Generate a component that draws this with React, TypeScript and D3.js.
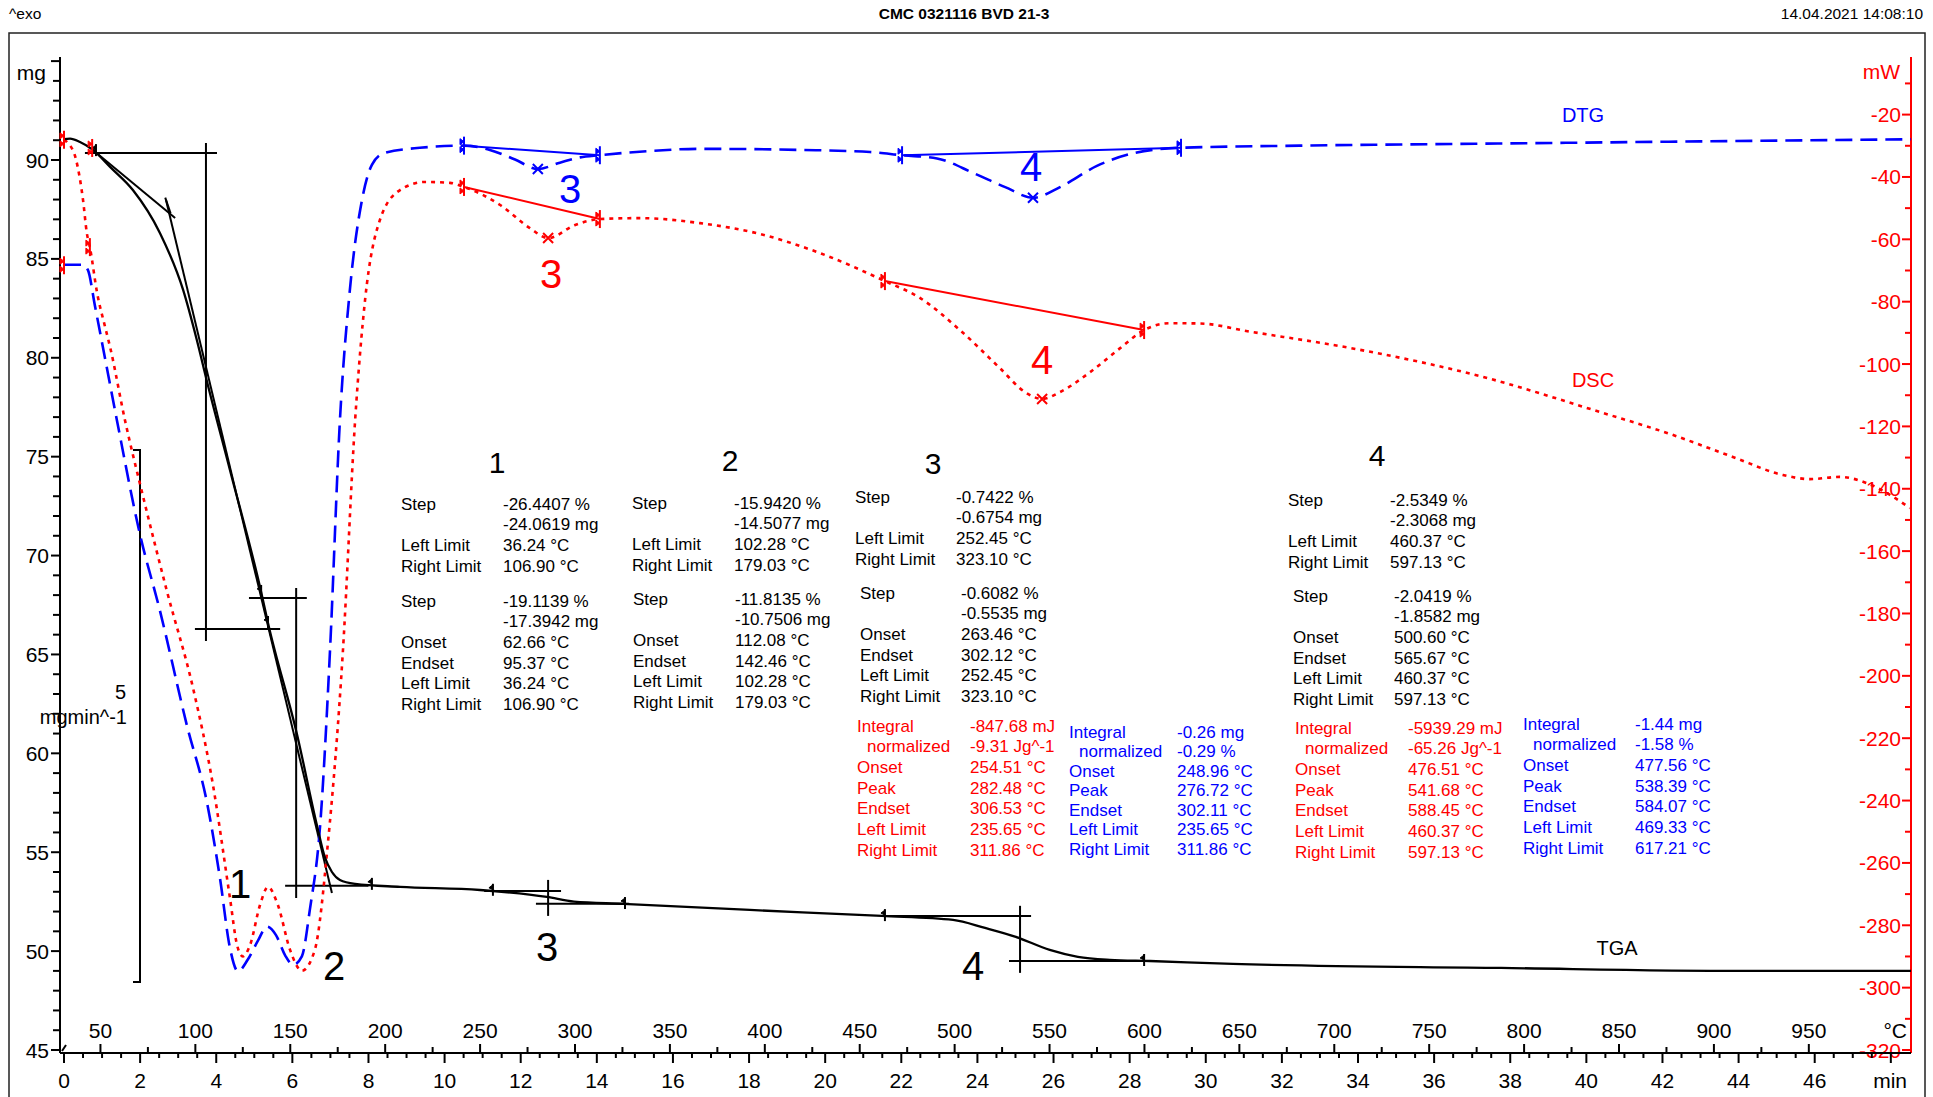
import React from "react";
import * as d3 from "d3";

const W = 1933;
const H = 1097;
const FONT = "'Liberation Sans', Arial, sans-serif";
const BLUE = "#0000ff";
const RED = "#ff0000";

// TGA curve: [time min, mass mg]
const tgaPoints: [number, number][] = [
  [0, 91.06], [0.16, 91.08], [0.42, 90.91], [0.76, 90.51], [1.21, 89.65], [1.81, 88.48],
  [2.52, 86.31], [3.13, 83.43], [3.49, 80.9], [3.76, 78.78], [4.36, 74.33], [5.18, 68.16],
  [5.36, 66.59], [6.12, 60.98], [6.65, 56.33], [6.86, 54.71], [7.04, 54.0], [7.25, 53.6],
  [7.65, 53.4], [8.83, 53.25], [10.93, 53.09], [12.69, 52.74], [13.4, 52.5], [14.69, 52.39],
  [18.02, 52.08], [21.49, 51.78], [23.36, 51.58], [24.2, 51.17], [25.01, 50.72], [25.9, 50.06],
  [26.64, 49.71], [27.48, 49.56], [28.53, 49.5], [30.71, 49.35], [37.76, 49.15], [44.09, 49.0],
  [48.53, 49.0],
];

// DTG curve: [time min, mg/min]
const dtgPoints: [number, number][] = [
  [0, -1.22], [0.5, -1.22], [0.63, -1.27], [0.81, -1.6], [1.02, -1.99], [1.39, -2.68],
  [2.0, -3.76], [2.52, -4.47], [3.23, -5.55], [3.76, -6.28], [4.1, -6.99], [4.36, -7.64],
  [4.57, -7.86], [4.83, -7.75], [5.1, -7.57], [5.33, -7.44], [5.57, -7.52], [5.81, -7.71],
  [6.02, -7.8], [6.25, -7.72], [6.46, -7.28], [6.73, -6.49], [6.99, -4.84], [7.25, -2.68],
  [7.51, -1.46], [7.83, -0.61], [8.09, -0.28], [8.41, -0.17], [9.35, -0.12], [10.51, -0.1],
  [11.19, -0.14], [11.85, -0.23], [12.45, -0.32], [13.03, -0.26], [13.56, -0.21], [14.08, -0.19],
  [15.4, -0.15], [16.71, -0.13], [19.34, -0.14], [21.18, -0.16], [22.02, -0.19], [22.94, -0.22],
  [23.91, -0.36], [24.73, -0.49], [25.46, -0.59], [26.17, -0.49], [27.14, -0.29], [28.11, -0.17],
  [29.35, -0.12], [32.47, -0.1], [37.73, -0.08], [42.98, -0.06], [48.53, -0.04],
];

// DSC curve: [time min, mW]
const dscPoints: [number, number][] = [
  [0, -28.1], [0.1, -29.1], [0.32, -34.6], [0.5, -47.4], [0.6, -58], [0.68, -62.5],
  [0.87, -77.2], [1.08, -88.1], [1.21, -94.5], [1.6, -117.9], [2.08, -142.6], [2.71, -173.1],
  [3.39, -203.9], [3.91, -234.7], [4.36, -271.2], [4.55, -286.5], [4.7, -290], [4.89, -286.3],
  [5.15, -273.5], [5.36, -267.7], [5.62, -273.5], [5.94, -287.9], [6.25, -294.6], [6.59, -287.9],
  [6.94, -252.9], [7.33, -191.7], [7.65, -117.9], [7.91, -79.5], [8.3, -53.8], [8.83, -44.2],
  [9.49, -41.6], [10.14, -41.9], [10.51, -43.2], [11.46, -49], [12.24, -56.4], [12.72, -59.6],
  [13.43, -55.4], [14.08, -53.5], [15.13, -53.2], [16.71, -54.8], [18.29, -58.3], [19.86, -64.4],
  [21.57, -73.4], [22.49, -78.8], [23.54, -89.1], [24.59, -101.3], [25.25, -109], [25.7, -111.2],
  [26.17, -109], [26.96, -102.6], [27.75, -94.9], [28.38, -89.1], [29.06, -86.9], [29.85, -87.0],
  [31.16, -89.6], [33.95, -95.2], [37.18, -103.8], [40.44, -115.7], [42.12, -122.1], [43.85, -129.8],
  [45.17, -135.6], [45.87, -136.9], [46.66, -136.2], [47.37, -138.2], [47.98, -142], [48.5, -146.2],
];

// evaluation marks
const tgaMarks: [number, number][] = [[0.84, 90.45], [5.18, 68.16], [5.36, 66.59], [8.09, 53.35], [11.27, 53.05], [14.74, 52.38], [21.57, 51.77], [28.38, 49.5]];
const dscLimits: [number, number][] = [[0, -28.1], [0.74, -30.7], [0.68, -62.5], [0, -68.3], [10.51, -43.2], [14.08, -53.5], [21.57, -73.4], [28.38, -89.1]];
const dtgLimits: [number, number][] = [[10.51, -0.1], [14.08, -0.19], [22.02, -0.19], [29.35, -0.12]];
const dscPeaks: [number, number][] = [[12.72, -59.6], [25.7, -111.2]];
const dtgPeaks: [number, number][] = [[12.45, -0.32], [25.46, -0.59]];
const dscBaselines: [number, number][][] = [[[10.51, -43.2], [14.08, -53.5]], [[21.57, -73.4], [28.38, -89.1]]];
const dtgBaselines: [number, number][][] = [[[10.51, -0.1], [14.08, -0.19]], [[22.02, -0.19], [29.35, -0.12]]];

// TGA step construction lines: [t1, mg1, t2, mg2]
const stepLines: [number, number, number, number][] = [
  [0.55, 90.35, 4.02, 90.35], [3.73, 90.86, 3.73, 65.68], [3.44, 66.29, 5.68, 66.29],
  [0.76, 90.51, 2.92, 87.07], [2.66, 88.1, 2.8, 87.3], [2.68, 87.98, 7.04, 52.94],
  [4.86, 67.86, 6.38, 67.86], [6.1, 68.36, 6.1, 52.69], [5.81, 53.3, 8.0, 53.3],
  [11.04, 53.04, 13.06, 53.04], [12.72, 53.6, 12.72, 51.78], [12.4, 52.39, 14.85, 52.39],
  [21.49, 51.78, 25.41, 51.78], [25.12, 52.29, 25.12, 48.9], [24.83, 49.5, 28.53, 49.5],
];

// axis ticks
const timeLabels = [0, 2, 4, 6, 8, 10, 12, 14, 16, 18, 20, 22, 24, 26, 28, 30, 32, 34, 36, 38, 40, 42, 44, 46];
const tempLabels = [50, 100, 150, 200, 250, 300, 350, 400, 450, 500, 550, 600, 650, 700, 750, 800, 850, 900, 950];
const massLabels = [45, 50, 55, 60, 65, 70, 75, 80, 85, 90];
const powerLabels = [-20, -40, -60, -80, -100, -120, -140, -160, -180, -200, -220, -240, -260, -280, -300, -320];

// result tables
const block1a = [["Step", "-26.4407 %"], ["", "-24.0619 mg"], ["Left Limit", "36.24 °C"], ["Right Limit", "106.90 °C"]];
const block1b = [["Step", "-19.1139 %"], ["", "-17.3942 mg"], ["Onset", "62.66 °C"], ["Endset", "95.37 °C"], ["Left Limit", "36.24 °C"], ["Right Limit", "106.90 °C"]];
const block2a = [["Step", "-15.9420 %"], ["", "-14.5077 mg"], ["Left Limit", "102.28 °C"], ["Right Limit", "179.03 °C"]];
const block2b = [["Step", "-11.8135 %"], ["", "-10.7506 mg"], ["Onset", "112.08 °C"], ["Endset", "142.46 °C"], ["Left Limit", "102.28 °C"], ["Right Limit", "179.03 °C"]];
const block3a = [["Step", "-0.7422 %"], ["", "-0.6754 mg"], ["Left Limit", "252.45 °C"], ["Right Limit", "323.10 °C"]];
const block3b = [["Step", "-0.6082 %"], ["", "-0.5535 mg"], ["Onset", "263.46 °C"], ["Endset", "302.12 °C"], ["Left Limit", "252.45 °C"], ["Right Limit", "323.10 °C"]];
const block3dsc = [["Integral", "-847.68 mJ"], ["normalized", "-9.31 Jg^-1"], ["Onset", "254.51 °C"], ["Peak", "282.48 °C"], ["Endset", "306.53 °C"], ["Left Limit", "235.65 °C"], ["Right Limit", "311.86 °C"]];
const block3dtg = [["Integral", "-0.26 mg"], ["normalized", "-0.29 %"], ["Onset", "248.96 °C"], ["Peak", "276.72 °C"], ["Endset", "302.11 °C"], ["Left Limit", "235.65 °C"], ["Right Limit", "311.86 °C"]];
const block4a = [["Step", "-2.5349 %"], ["", "-2.3068 mg"], ["Left Limit", "460.37 °C"], ["Right Limit", "597.13 °C"]];
const block4b = [["Step", "-2.0419 %"], ["", "-1.8582 mg"], ["Onset", "500.60 °C"], ["Endset", "565.67 °C"], ["Left Limit", "460.37 °C"], ["Right Limit", "597.13 °C"]];
const block4dsc = [["Integral", "-5939.29 mJ"], ["normalized", "-65.26 Jg^-1"], ["Onset", "476.51 °C"], ["Peak", "541.68 °C"], ["Endset", "588.45 °C"], ["Left Limit", "460.37 °C"], ["Right Limit", "597.13 °C"]];
const block4dtg = [["Integral", "-1.44 mg"], ["normalized", "-1.58 %"], ["Onset", "477.56 °C"], ["Peak", "538.39 °C"], ["Endset", "584.07 °C"], ["Left Limit", "469.33 °C"], ["Right Limit", "617.21 °C"]];

const x = d3.scaleLinear().domain([0, 48.53]).range([64, 1911]);
const xTemp = d3.scaleLinear().domain([30.8, 30.8 + 20.05 * 48.53]).range([64, 1911]);
const yMass = d3.scaleLinear().domain([45, 90]).range([1050, 160]);
const yPow = d3.scaleLinear().domain([-320, -20]).range([1050, 114.6]);
const yDtg = d3.scaleLinear().domain([-8.6, 0.752]).range([1050, 55]);

const lineFor = (ys: d3.ScaleLinear<number, number>) =>
  d3.line<[number, number]>().x((d) => x(d[0])).y((d) => ys(d[1])).curve(d3.curveMonotoneX);

const Table = ({ rows, lx, vx, y0, dy = 20.7, color = "#000" }: any) => (
  <g fill={color} fontSize={17} fontFamily={FONT}>
    {rows.map((r: string[], i: number) => (
      <g key={i}>
        <text x={lx + (r[0] === "normalized" ? 10 : 0)} y={y0 + i * dy} dominantBaseline="central">{r[0]}</text>
        <text x={vx} y={y0 + i * dy} dominantBaseline="central">{r[1]}</text>
      </g>
    ))}
  </g>
);

const Limit = ({ p, ys, color }: any) => {
  const cx = x(p[0]);
  const cy = ys(p[1]);
  return (
    <g stroke={color} strokeWidth={2} fill={color}>
      <path d={`M${cx},${cy - 9}V${cy + 9}`} />
      <path d={`M${cx},${cy - 4}L${cx - 4},${cy - 7}L${cx - 4},${cy - 1}Z`} strokeWidth={1} />
      <path d={`M${cx},${cy + 4}L${cx - 4},${cy + 1}L${cx - 4},${cy + 7}Z`} strokeWidth={1} />
    </g>
  );
};

const Cross = ({ p, ys, color }: any) => {
  const cx = x(p[0]);
  const cy = ys(p[1]);
  return <path d={`M${cx - 5},${cy - 5}L${cx + 5},${cy + 5}M${cx + 5},${cy - 5}L${cx - 5},${cy + 5}`} stroke={color} strokeWidth={2} />;
};

export default function App() {
  const massMinor = d3.range(45, 96, 1);
  const powMinor = d3.range(-320, 0, 10);
  const timeMinor = d3.range(0, 48.5, 0.5);
  const tempMinor = d3.range(50, 975, 25);

  return (
    <svg width={W} height={H} style={{ position: "absolute", left: 0, top: 0, background: "#fff" }} fontFamily={FONT}>
      <rect x={0} y={0} width={W} height={H} fill="#fff" />
      {/* header */}
      <text x={9} y={13} fontSize={15.5} dominantBaseline="central">^exo</text>
      <text x={964} y={13} fontSize={15.5} fontWeight="bold" textAnchor="middle" dominantBaseline="central">CMC 0321116 BVD 21-3</text>
      <text x={1923} y={13} fontSize={15.5} textAnchor="end" dominantBaseline="central">14.04.2021 14:08:10</text>
      <path d={`M9,${H}V33H1925V${H}`} fill="none" stroke="#222" strokeWidth={1.5} />

      {/* left mass axis */}
      <g stroke="#000" strokeWidth={2}>
        <line x1={60} x2={60} y1={57} y2={1053} />
        {massMinor.map((m) => (
          <line key={m} x1={m % 5 === 0 ? 51 : 53} x2={60} y1={yMass(m)} y2={yMass(m)} />
        ))}
      </g>
      <g fontSize={21} textAnchor="end">
        {massLabels.map((m) => (
          <text key={m} x={49} y={yMass(m)} dominantBaseline="central">{m}</text>
        ))}
        <text x={46} y={72} dominantBaseline="central">mg</text>
      </g>

      {/* right power axis */}
      <g stroke={RED} strokeWidth={2}>
        <line x1={1911} x2={1911} y1={57} y2={1053} />
        {powMinor.map((p) => (
          <line key={p} x1={p % 20 === 0 ? 1902 : 1905} x2={1911} y1={yPow(p)} y2={yPow(p)} />
        ))}
      </g>
      <g fontSize={21} textAnchor="end" fill={RED}>
        {powerLabels.map((p) => (
          <text key={p} x={1901} y={yPow(p)} dominantBaseline="central">{p}</text>
        ))}
        <text x={1900} y={71} dominantBaseline="central">mW</text>
      </g>

      {/* bottom time / temperature axis */}
      <g stroke="#000" strokeWidth={2}>
        <line x1={60} x2={1911} y1={1053} y2={1053} />
        {timeMinor.map((t) => (
          <line key={t} x1={x(t)} x2={x(t)} y1={1053} y2={t % 2 === 0 ? 1063 : 1058} />
        ))}
        {tempMinor.map((T) => (
          <line key={T} x1={xTemp(T)} x2={xTemp(T)} y1={T % 50 === 0 ? 1044 : 1047} y2={1053} />
        ))}
        <path d="M62,1051l4,-6" />
      </g>
      <g fontSize={21} textAnchor="middle">
        {timeLabels.map((t) => (
          <text key={t} x={x(t)} y={1080} dominantBaseline="central">{t}</text>
        ))}
        {tempLabels.map((T) => (
          <text key={T} x={xTemp(T)} y={1030} dominantBaseline="central">{T}</text>
        ))}
        <text x={1907} y={1030} textAnchor="end" dominantBaseline="central">°C</text>
        <text x={1907} y={1080} textAnchor="end" dominantBaseline="central">min</text>
      </g>

      {/* DTG scale bar */}
      <path d={`M133,${yDtg(-2.96)}H140V${yDtg(-7.96)}H133`} fill="none" stroke="#000" strokeWidth={2} />
      <text x={126} y={692} fontSize={20} textAnchor="end" dominantBaseline="central">5</text>
      <text x={127} y={717} fontSize={20} textAnchor="end" dominantBaseline="central">mgmin^-1</text>

      {/* step construction */}
      <g stroke="#000" strokeWidth={2}>
        {stepLines.map((s, i) => (
          <line key={i} x1={x(s[0])} y1={yMass(s[1])} x2={x(s[2])} y2={yMass(s[3])} />
        ))}
      </g>

      {/* baselines */}
      {dscBaselines.map((b, i) => (
        <path key={"db" + i} d={d3.line()(b.map((p) => [x(p[0]), yPow(p[1])]))!} stroke={RED} strokeWidth={2} fill="none" />
      ))}
      {dtgBaselines.map((b, i) => (
        <path key={"gb" + i} d={d3.line()(b.map((p) => [x(p[0]), yDtg(p[1])]))!} stroke={BLUE} strokeWidth={2} fill="none" />
      ))}

      {/* curves */}
      <path d={lineFor(yDtg)(dtgPoints)!} fill="none" stroke={BLUE} strokeWidth={2.6} strokeDasharray="17 8" />
      <path d={lineFor(yPow)(dscPoints)!} fill="none" stroke={RED} strokeWidth={2.6} strokeDasharray="4 5" />
      <path d={lineFor(yMass)(tgaPoints)!} fill="none" stroke="#000" strokeWidth={2.3} />

      {/* marks */}
      {tgaMarks.map((p, i) => (
        <g key={"tm" + i} stroke="#000" fill="#000">
          <path d={`M${x(p[0])},${yMass(p[1]) - 7}V${yMass(p[1]) + 5}`} strokeWidth={2} />
          <path d={`M${x(p[0])},${yMass(p[1]) - 6}l-4,3l4,2z`} strokeWidth={1} />
        </g>
      ))}
      {dscLimits.map((p, i) => <Limit key={"dl" + i} p={p} ys={yPow} color={RED} />)}
      {dtgLimits.map((p, i) => <Limit key={"gl" + i} p={p} ys={yDtg} color={BLUE} />)}
      {dscPeaks.map((p, i) => <Cross key={"dp" + i} p={p} ys={yPow} color={RED} />)}
      {dtgPeaks.map((p, i) => <Cross key={"gp" + i} p={p} ys={yDtg} color={BLUE} />)}

      {/* curve labels */}
      <g fontSize={40} textAnchor="middle" dominantBaseline="central">
        <text x={240} y={884}>1</text>
        <text x={334} y={966}>2</text>
        <text x={547} y={947}>3</text>
        <text x={973} y={966}>4</text>
        <text x={570} y={189} fill={BLUE}>3</text>
        <text x={1031} y={167} fill={BLUE}>4</text>
        <text x={551} y={274} fill={RED}>3</text>
        <text x={1042} y={360} fill={RED}>4</text>
      </g>
      <g fontSize={20} textAnchor="middle" dominantBaseline="central">
        <text x={1583} y={115} fill={BLUE}>DTG</text>
        <text x={1593} y={380} fill={RED}>DSC</text>
        <text x={1617} y={948}>TGA</text>
      </g>

      {/* result tables */}
      <g fontSize={30} textAnchor="middle" dominantBaseline="central">
        <text x={497} y={462}>1</text>
        <text x={730} y={460}>2</text>
        <text x={933} y={463}>3</text>
        <text x={1377} y={455}>4</text>
      </g>
      <Table rows={block1a} lx={401} vx={503} y0={504} />
      <Table rows={block1b} lx={401} vx={503} y0={601} />
      <Table rows={block2a} lx={632} vx={734} y0={503} />
      <Table rows={block2b} lx={633} vx={735} y0={599} />
      <Table rows={block3a} lx={855} vx={956} y0={497} />
      <Table rows={block3b} lx={860} vx={961} y0={593} />
      <Table rows={block3dsc} lx={857} vx={970} y0={726} color={RED} />
      <Table rows={block3dtg} lx={1069} vx={1177} y0={732} dy={19.5} color={BLUE} />
      <Table rows={block4a} lx={1288} vx={1390} y0={500} />
      <Table rows={block4b} lx={1293} vx={1394} y0={596} />
      <Table rows={block4dsc} lx={1295} vx={1408} y0={728} color={RED} />
      <Table rows={block4dtg} lx={1523} vx={1635} y0={724} color={BLUE} />
    </svg>
  );
}
